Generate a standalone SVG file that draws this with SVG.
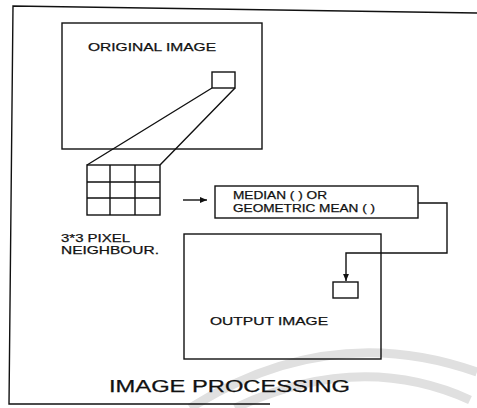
<svg xmlns="http://www.w3.org/2000/svg" width="477" height="408" viewBox="0 0 477 408">
<style>
.ln{fill:none;stroke:#111;stroke-width:1.4}
.wm{fill:none;stroke:#e0e0e0;stroke-width:9}
text{font-family:"Liberation Sans",Arial,sans-serif;fill:#111;stroke:#111;stroke-width:0.25}
.s{font-size:11px}
.l{font-size:16px}
</style>
<defs>
<marker id="ah" viewBox="0 0 6 6" refX="6" refY="3" markerWidth="5" markerHeight="5" orient="auto"><path d="M0,0.5 L6,3 L0,5.5 z" fill="#111"/></marker>
</defs>
<rect width="477" height="408" fill="#fff"/>
<g id="watermark">
<path class="wm" d="M190,408 Q330,320 477,372"/>
<path class="wm" d="M235,408 Q360,350 470,400"/>
</g>
<g id="frame">
<path class="ln" d="M477,13 L13,6 L9,404 L270,404"/>
<text class="l" x="109" y="392" textLength="241" lengthAdjust="spacingAndGlyphs">IMAGE PROCESSING</text>
</g>
<g id="original-image">
<rect class="ln" x="62" y="23" width="200" height="126"/>
<text class="s" x="88" y="51" textLength="128" lengthAdjust="spacingAndGlyphs">ORIGINAL IMAGE</text>
<rect class="ln" x="212" y="72" width="23" height="16"/>
</g>
<g id="pixel-grid">
<rect class="ln" x="87" y="165" width="73" height="50"/>
<path class="ln" d="M110,165 V215 M135,165 V215 M87,182 H160 M87,198 H160"/>
<text class="s" x="61" y="242" textLength="69" lengthAdjust="spacingAndGlyphs">3*3 PIXEL</text>
<text class="s" x="61" y="254" textLength="98" lengthAdjust="spacingAndGlyphs">NEIGHBOUR.</text>
</g>
<g id="filter">
<rect class="ln" x="215" y="186" width="203" height="32"/>
<text class="s" x="233" y="199" textLength="94" lengthAdjust="spacingAndGlyphs">MEDIAN ( ) OR</text>
<text class="s" x="233" y="212" textLength="142" lengthAdjust="spacingAndGlyphs">GEOMETRIC MEAN ( )</text>
</g>
<g id="output-image">
<rect class="ln" x="184" y="234" width="197" height="125"/>
<rect class="ln" x="333" y="282" width="25" height="16"/>
<text class="s" x="210" y="325" textLength="118" lengthAdjust="spacingAndGlyphs">OUTPUT IMAGE</text>
</g>
<g id="connectors">
<path class="ln" d="M212,88 L87,165 M235,88 L160,165"/>
<path class="ln" d="M183,200 H207" marker-end="url(#ah)"/>
<path class="ln" d="M418,203 H447 V253 H346 V281" marker-end="url(#ah)"/>
</g>
</svg>
